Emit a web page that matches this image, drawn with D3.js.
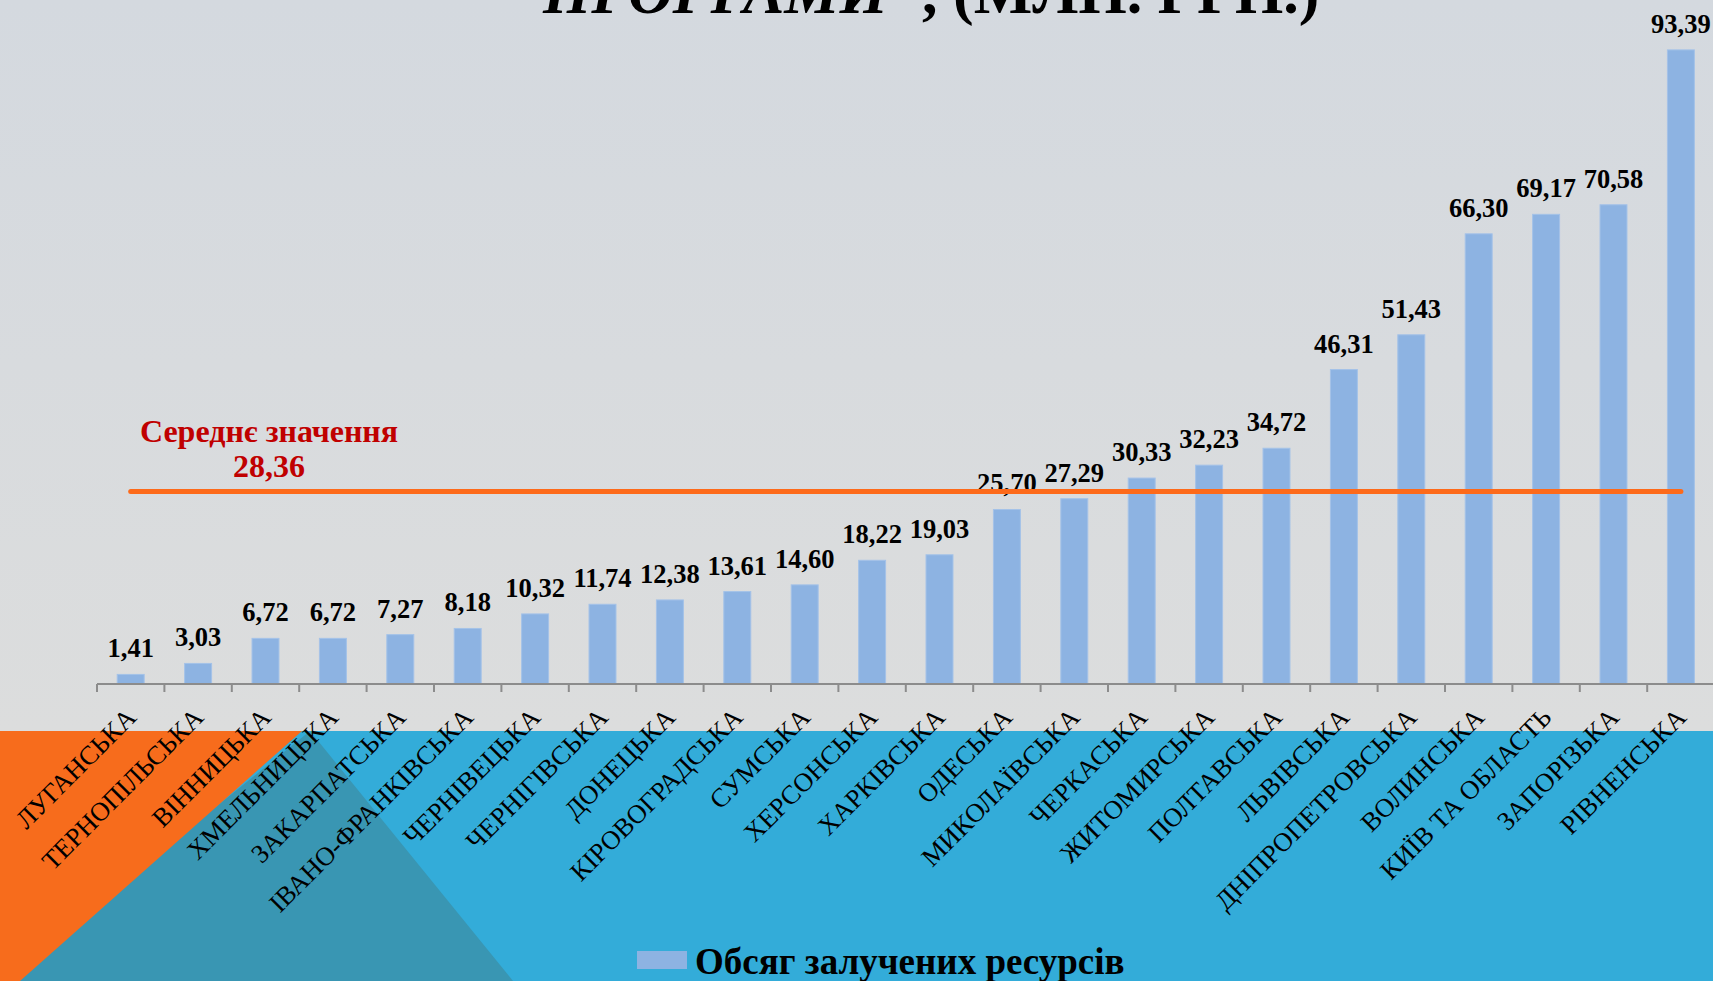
<!DOCTYPE html>
<html>
<head>
<meta charset="utf-8">
<script src="https://cdn.jsdelivr.net/npm/d3@7"></script>
<style>
  body { margin: 0; overflow: hidden; }
  svg { display: block; font-family: "Liberation Serif", "Times New Roman", serif; }
</style>
</head>
<body>
<div class="container"></div>
<script>
// data
const regions = ['ЛУГАНСЬКА', 'ТЕРНОПІЛЬСЬКА', 'ВІННИЦЬКА', 'ХМЕЛЬНИЦЬКА', 'ЗАКАРПАТСЬКА',
  'ІВАНО-ФРАНКІВСЬКА', 'ЧЕРНІВЕЦЬКА', 'ЧЕРНІГІВСЬКА', 'ДОНЕЦЬКА', 'КІРОВОГРАДСЬКА',
  'СУМСЬКА', 'ХЕРСОНСЬКА', 'ХАРКІВСЬКА', 'ОДЕСЬКА', 'МИКОЛАЇВСЬКА', 'ЧЕРКАСЬКА',
  'ЖИТОМИРСЬКА', 'ПОЛТАВСЬКА', 'ЛЬВІВСЬКА', 'ДНІПРОПЕТРОВСЬКА', 'ВОЛИНСЬКА',
  'КИЇВ ТА ОБЛАСТЬ', 'ЗАПОРІЗЬКА', 'РІВНЕНСЬКА'];
const amounts = [1.41, 3.03, 6.72, 6.72, 7.27, 8.18, 10.32, 11.74, 12.38, 13.61,
  14.60, 18.22, 19.03, 25.70, 27.29, 30.33, 32.23, 34.72, 46.31, 51.43,
  66.30, 69.17, 70.58, 93.39];
const average = 28.36;
const averageLabel = 'Середнє значення';
const seriesName = 'Обсяг залучених ресурсів';
const titleItalic = 'ПРОГРАМИ"';
const titleRest = ', (МЛН. ГРН.)';

const data = regions.map((r, i) => ({name: r, value: amounts[i]}));

// setup
const w = 1713;
const h = 981;
const axisY = 684;
const bandTop = 731;

const svg = d3.select('.container')
              .append('svg')
              .attr('width', w)
              .attr('height', h);

const defs = svg.append('defs');
const grad = defs.append('linearGradient')
                 .attr('id', 'bg')
                 .attr('x1', 0).attr('y1', 0)
                 .attr('x2', 0).attr('y2', 1);
grad.append('stop').attr('offset', '0%').attr('stop-color', '#d4d9df');
grad.append('stop').attr('offset', '100%').attr('stop-color', '#dcdddd');

// background
svg.append('rect')
   .attr('width', w).attr('height', bandTop)
   .attr('fill', 'url(#bg)');
svg.append('rect')
   .attr('y', bandTop).attr('width', w).attr('height', h - bandTop)
   .attr('fill', '#33acd9');
svg.append('polygon')
   .attr('points', `310,${bandTop} 513,${h} 0,${h}`)
   .attr('fill', '#3996b3');
svg.append('polygon')
   .attr('points', `0,${bandTop} 302,${bandTop} 20,${h} 0,${h}`)
   .attr('fill', '#f76c1c');

// title (clipped at top, like the slide)
const title = svg.append('text')
   .attr('x', 543)
   .attr('y', 13)
   .attr('font-size', 62)
   .attr('font-weight', 'bold')
   .attr('fill', '#000');
title.append('tspan').attr('font-style', 'italic').text(titleItalic);
title.append('tspan').text(titleRest);

// scales
const x = d3.scaleBand()
            .domain(regions)
            .range([97, 97 + 24 * 67.4])
            .paddingInner(0.6)
            .paddingOuter(0.3);

const y = d3.scaleLinear()
            .domain([0, 100])
            .range([axisY, 5]);

const fmt = d => d3.format('.2f')(d).replace('.', ',');

// bars
svg.append('g')
   .selectAll('rect')
   .data(data)
   .enter()
   .append('rect')
   .attr('x', d => x(d.name))
   .attr('y', d => y(d.value))
   .attr('width', x.bandwidth())
   .attr('height', d => axisY - y(d.value))
   .attr('fill', '#8db3e2')
   .attr('stroke', '#a4c2e8')
   .attr('stroke-width', 1);

// value labels
svg.append('g')
   .selectAll('text')
   .data(data)
   .enter()
   .append('text')
   .attr('x', d => x(d.name) + x.bandwidth() / 2)
   .attr('y', d => y(d.value) - 17)
   .attr('text-anchor', 'middle')
   .attr('font-size', 26.5)
   .attr('font-weight', 'bold')
   .text(d => fmt(d.value));

// axis line + ticks at band edges
const step = x.step();
const axisG = svg.append('g');
axisG.append('line')
     .attr('x1', x.range()[0]).attr('x2', x.range()[1])
     .attr('y1', axisY).attr('y2', axisY)
     .attr('stroke', '#8c8c8c').attr('stroke-width', 2);
axisG.selectAll('.tick')
     .data(d3.range(regions.length + 1))
     .enter()
     .append('line')
     .attr('x1', i => x.range()[0] + i * step)
     .attr('x2', i => x.range()[0] + i * step)
     .attr('y1', axisY).attr('y2', axisY + 8)
     .attr('stroke', '#8c8c8c').attr('stroke-width', 2);

// category labels
svg.append('g')
   .selectAll('text')
   .data(data)
   .enter()
   .append('text')
   .attr('transform', d => `translate(${x(d.name) + x.bandwidth() / 2 + 7}, ${axisY + 35}) rotate(-45)`)
   .attr('text-anchor', 'end')
   .attr('font-size', 26.5)
   .attr('fill', '#000')
   .text(d => d.name);

// average line
const avgY = y(average);
svg.append('line')
   .attr('x1', x(regions[0]) + x.bandwidth() / 2)
   .attr('x2', x(regions[regions.length - 1]) + x.bandwidth() / 2)
   .attr('y1', avgY).attr('y2', avgY)
   .attr('stroke', '#fd6a1a')
   .attr('stroke-width', 5)
   .attr('stroke-linecap', 'round');

svg.append('text')
   .attr('x', 269).attr('y', 442)
   .attr('text-anchor', 'middle')
   .attr('font-size', 32).attr('font-weight', 'bold')
   .attr('fill', '#c00000')
   .text(averageLabel);
svg.append('text')
   .attr('x', 269).attr('y', 477)
   .attr('text-anchor', 'middle')
   .attr('font-size', 32).attr('font-weight', 'bold')
   .attr('fill', '#c00000')
   .text(fmt(average));

// legend
svg.append('rect')
   .attr('x', 637).attr('y', 951)
   .attr('width', 50).attr('height', 18)
   .attr('fill', '#8db3e2');
svg.append('text')
   .attr('x', 695).attr('y', 974)
   .attr('font-size', 37).attr('font-weight', 'bold')
   .attr('fill', '#000')
   .text(seriesName);
</script>
</body>
</html>
